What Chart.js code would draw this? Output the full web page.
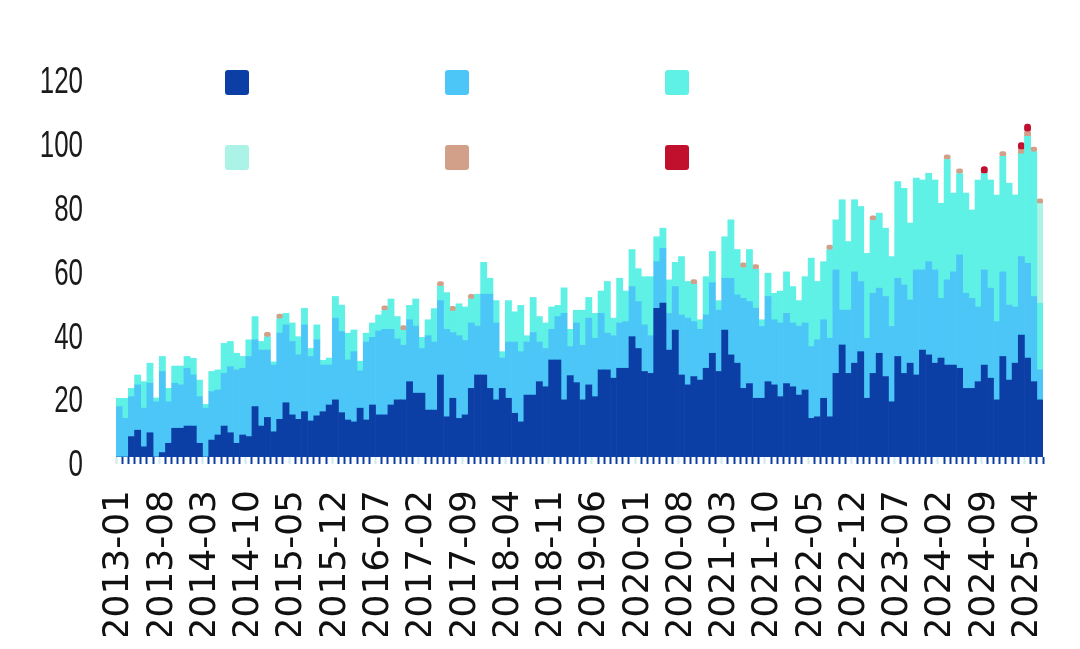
<!DOCTYPE html>
<html>
<head>
<meta charset="utf-8">
<script src="https://cdn.jsdelivr.net/npm/chart.js@4.4.1/dist/chart.umd.min.js"></script>
<style>
  html, body { margin: 0; padding: 0; background: #ffffff; }
  #wrap { position: relative; width: 1080px; height: 649px; }
  #legend { position: absolute; left: 225px; top: 70px; display: grid;
            grid-template-columns: repeat(3, 220px); row-gap: 50px; }
  .sw { width: 24px; height: 25px; border-radius: 3px; }
</style>
</head>
<body>
<div id="wrap">
  <canvas id="c" width="1080" height="649"></canvas>
  <div id="legend"></div>
</div>
<script>
// Monthly categories 2013-01 .. 2025-06
const startYear = 2013;
const months = [];
for (let k = 0; k < 150; k++) {
  const y = startYear + Math.floor(k / 12);
  const m = (k % 12) + 1;
  months.push(y + '-' + (m < 10 ? '0' + m : '' + m));
}

const seriesNames = ['Series 1', 'Series 2', 'Series 3', 'Series 4', 'Series 5', 'Series 6'];
const seriesColors = ['#0c3fa6', '#4cc6f7', '#5ff0e6', '#aaf3e6', '#d2a089', '#c0102e'];

const darkBlue = [
  0,0,6.4,8.4,3.2,7.6,0,1.4,4.3,9,9,9.7,9.7,4.3,0,5.3,6.9,9.7,7.6,4.3,
  6.9,6.4,15.8,9.7,12.4,7.9,11.8,17,13.2,11.8,14.2,11.3,12.9,14.2,16.3,17.9,13.9,11.6,11,15.3,
  11.6,16.3,13.2,13.2,16.3,17.9,17.9,23.6,20,20,14.7,14.7,25.7,12.6,18.4,12.1,13.2,21.5,25.7,25.7,
  21.5,17.9,21.5,18.4,13.7,11,19.4,19.4,23.6,22,30.4,30.4,17.9,25.5,23.3,17.9,22.6,18.9,27.3,27.3,
  24.7,27.8,27.8,37.7,34,26.8,26.2,46.6,48.2,33.5,39.8,25.7,22.6,25.2,24.1,27.8,32.5,26.8,39.8,32,
  29.4,21.5,23,18.4,18.4,23.6,22.6,18.9,23,22,19.4,21,12.1,12.6,18.4,12.6,26.2,35.1,26.2,29.4,
  33,18.4,26.2,32.5,25.2,17.3,31.5,26.2,29.4,25.7,33.5,32,29.4,31,28.8,28.8,27.8,21.5,21.5,23.6,
  28.8,24.7,17.9,31.5,24.1,29.4,38.2,31,23.6,17.9
];
const lightBlue = [
  15.8,12.1,12.5,14.2,12.1,15.5,17.3,25.4,13,14.1,13.6,18.1,16,14.6,15.3,15.2,14.1,16.5,20.7,23,
  20.9,25.1,20.9,23.8,21.1,20.9,27,24.4,23,20.2,27.2,20.2,23.8,14.6,12.5,25.6,25.4,18.8,22,11.7,
  24.4,21.2,26.3,26.8,23.7,19.1,17.1,19.4,21,14,23.3,21.3,23.3,27.4,20.6,25.9,23.3,20.5,15.3,25.3,
  29.5,24.1,9.5,17.6,22.3,22,16.6,19.6,12.4,12,9.6,13.6,27.1,9.1,18.7,17.1,20.9,18.3,17.7,11.5,
  13.3,14.2,14.6,15.7,14.7,14.6,11.8,14.6,17.2,11.5,13.6,18.8,20.9,17.2,15.9,16.7,22.1,19.2,16.2,24,
  21.4,28.2,25.7,28.2,22.5,26.7,20.4,23.1,22,20,21.6,21,22.5,24.1,24.6,24.6,32.4,10.9,19.8,28.6,
  22,18.8,25.1,20.4,25.1,23.6,24.5,27.7,19.8,32.9,25.1,29.2,29.2,18.7,26.7,29.2,35.5,29.8,28.2,23.4,
  29.8,28.2,24.5,26.5,23.5,17.6,24.6,29.7,26.7,9.4
];
const cyan = [
  2.6,6.3,2.6,3.1,8.3,6.3,1.2,4.7,4.2,5.4,5.9,3.7,5.2,5.2,1.2,6.3,6.3,9.4,7.9,5.2,
  3.7,5.2,7.3,2.7,4.1,1,4.5,3.6,5.8,5.7,5.2,2.5,4.7,1.5,2.2,6.8,8.3,8.4,6.8,3,
  2.8,4.5,5,5.9,9.5,7,4.7,4.5,8.5,3.5,5,10.5,4.5,11.5,6.7,10,10.5,7.5,10,10,
  5,7,2,13,9.5,14.5,2,11,8,8,7,3.5,8,5.4,4,11,6.5,7.8,7,16.2,
  5.5,14,9.6,11.6,10.3,15.1,18.5,7.8,6.3,10.5,7.6,18.3,11.5,11.7,3,12,9.8,3,13,18.3,
  14.2,9.6,16.3,12.2,2.1,7.3,8.3,10,13,11.4,8,14.5,27.7,18.3,18.2,27.7,15.7,34.6,21.5,22.6,
  23.5,26.6,22.8,23.5,21.4,21.9,30.3,30.3,24.1,28.8,28.2,27.7,28.2,29.8,37.7,24.7,25.5,31.4,27.7,39.8,
  30.2,33.9,39.7,36.2,38.2,35.1,32.2,39.8,45.3,20.9
];
// sparse small series: [index, value]
const paleCyanPoints = [[149, 31.2]];
const tanPoints = [[24,1.5],[26,1.5],[43,1.5],[46,1.5],[52,1.5],[54,1.5],[57,1.5],[93,1.5],[101,1.5],[103,1.5],
  [115,1.5],[122,1.5],[134,1.5],[136,1.5],[143,1.5],[146,1.3],[147,1.4],[148,1.5],[149,1.5]];
const crimsonPoints = [[140,2.2],[146,2.2],[147,2.4]];

function sparse(points) {
  const arr = new Array(months.length).fill(null);
  points.forEach(p => { arr[p[0]] = p[1]; });
  return arr;
}

const seriesData = [darkBlue, lightBlue, cyan, sparse(paleCyanPoints), sparse(tanPoints), sparse(crimsonPoints)];

const datasets = seriesData.map((d, i) => ({
  label: seriesNames[i],
  data: d,
  backgroundColor: seriesColors[i],
  borderWidth: 0,
  barPercentage: 1.0,
  categoryPercentage: 1.0,
  borderRadius: i >= 4 ? 3 : 0,
  borderSkipped: i >= 4 ? false : 'start'
}));

// HTML legend (colour squares only, as in the reference)
const lg = document.getElementById('legend');
seriesColors.forEach(c => {
  const d = document.createElement('div');
  d.className = 'sw';
  d.style.background = c;
  lg.appendChild(d);
});

// draw the y tick labels horizontally condensed (narrow numerals as in the reference)
function condenseLabels(scale, factor) {
  if (scale._condensed) return;
  scale._condensed = true;
  const orig = scale.drawLabels;
  scale.drawLabels = function (area) {
    const ctx = this.ctx;
    const ax = this.right - this.options.ticks.padding;
    ctx.save();
    ctx.translate(ax, 0);
    ctx.scale(factor, 1);
    ctx.translate(-ax, 0);
    orig.call(this, area);
    ctx.restore();
  };
}

new Chart(document.getElementById('c'), {
  type: 'bar',
  data: { labels: months, datasets: datasets },
  options: {
    responsive: false,
    animation: false,
    layout: { padding: { left: 0, right: 37, top: 74, bottom: 13 } },
    plugins: { legend: { display: false }, tooltip: { enabled: false } },
    scales: {
      x: {
        stacked: true,
        border: { display: false },
        afterFit: s => { s.height = 179; s.paddingLeft = 0; s.paddingRight = 0; },
        grid: {
          display: true,
          offset: true,
          drawOnChartArea: false,
          drawTicks: true,
          tickLength: 7,
          tickWidth: 2,
          tickColor: ctx => (ctx.index % 7 === 0 ? '#cfe9ee' : '#0c3fa6')
        },
        ticks: {
          autoSkip: false,
          minRotation: 90,
          maxRotation: 90,
          padding: 26,
          color: '#111111',
          font: { family: "'DejaVu Sans', sans-serif", size: 36 },
          callback: (v, i) => (i % 7 === 0 ? months[i] : '')
        }
      },
      y: {
        stacked: true,
        min: 0,
        max: 120,
        border: { display: false },
        afterFit: s => { s.width = 116; s.paddingTop = 0; s.paddingBottom = 0; condenseLabels(s, 0.7); },
        grid: { display: false, drawTicks: false },
        ticks: {
          stepSize: 20,
          padding: 33,
          labelOffset: 9,
          color: '#1a1a1a',
          font: { family: "'Liberation Sans', Arial, sans-serif", size: 37 }
        }
      }
    }
  }
});
</script>
</body>
</html>
